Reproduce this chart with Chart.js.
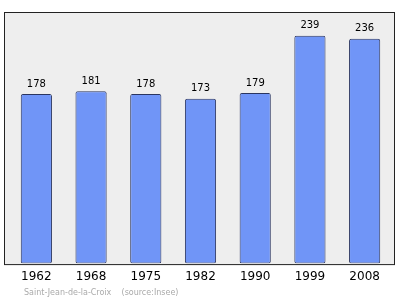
<!DOCTYPE html>
<html>
<head>
<meta charset="utf-8">
<script src="https://cdn.jsdelivr.net/npm/chart.js@4/dist/chart.umd.min.js"></script>
<style>
  html, body { margin: 0; padding: 0; background: #fff; }
  #wrap { width: 400px; height: 299px; position: relative; }
</style>
</head>
<body>
<div id="wrap"><canvas id="chart"></canvas></div>
<script>
const years = ["1962", "1968", "1975", "1982", "1990", "1999", "2008"];
const population = [178, 181, 178, 173, 179, 239, 236];
const yMax = 263;
const footerText = "Saint-Jean-de-la-Croix    (source:Insee)";

// grey framed plot background
const frame = {
  id: "frame",
  beforeDraw(chart) {
    const { ctx, chartArea: a } = chart;
    ctx.save();
    ctx.fillStyle = "#eeeeee";
    ctx.fillRect(a.left - 5, a.top - 1, a.right - a.left + 8, a.bottom - a.top + 2);
    ctx.strokeStyle = "#222";
    ctx.lineWidth = 1;
    ctx.strokeRect(a.left - 4.5, a.top - 0.5, a.right - a.left + 7, a.bottom - a.top + 1.5);
    ctx.restore();
  },
};

// value labels above bars + source line
const labels = {
  id: "labels",
  afterDatasetsDraw(chart) {
    const { ctx } = chart;
    const meta = chart.getDatasetMeta(0);
    ctx.save();
    ctx.fillStyle = "#000";
    ctx.font = "10px 'DejaVu Sans'";
    ctx.textAlign = "center";
    ctx.textBaseline = "bottom";
    meta.data.forEach((bar, i) => {
      ctx.fillText(population[i], bar.x, bar.y - 5);
    });
    ctx.fillStyle = "#aaaaaa";
    ctx.font = "8px 'DejaVu Sans'";
    ctx.textAlign = "left";
    ctx.textBaseline = "middle";
    ctx.fillText(footerText, 24, 293);
    ctx.restore();
  },
};

new Chart(document.getElementById("chart"), {
  type: "bar",
  data: {
    labels: years,
    datasets: [
      {
        data: population,
        backgroundColor: "#7095f7",
        borderColor: "#2a3560",
        borderWidth: 1,
        borderRadius: 2,
        borderSkipped: false,
        barPercentage: 0.57,
        categoryPercentage: 1,
      },
    ],
  },
  options: {
    responsive: true,
    maintainAspectRatio: false,
    animation: false,
    layout: { padding: { left: 9, right: 8, top: 13, bottom: 9 } },
    plugins: {
      legend: { display: false },
      tooltip: { enabled: false },
    },
    scales: {
      x: {
        grid: { display: false, drawTicks: false },
        border: { display: false },
        ticks: {
          color: "#000",
          font: { family: "'DejaVu Sans'", size: 12 },
          padding: 6,
          maxRotation: 0,
        },
      },
      y: {
        display: false,
        min: 0,
        max: yMax,
      },
    },
  },
  plugins: [frame, labels],
});
</script>
</body>
</html>
